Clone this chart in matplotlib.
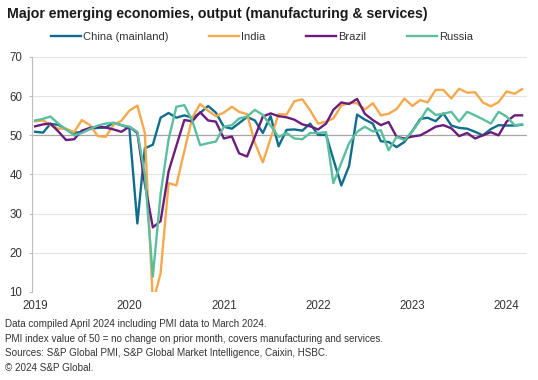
import matplotlib
matplotlib.use("Agg")
import matplotlib.pyplot as plt
import pandas as pd

plt.rcParams['font.family'] = ['Liberation Sans', 'DejaVu Sans']

# composite PMI output, monthly Jan 2019 - Mar 2024
months = pd.date_range("2019-01-01", periods=63, freq="MS")

china = [50.9, 50.7, 52.9, 52.7, 51.5, 50.6, 50.9, 51.6, 51.9, 52.0, 53.2, 52.6,
         51.9, 27.5, 46.7, 47.6, 54.5, 55.7, 54.5, 55.1, 54.5, 55.7, 57.5, 55.8,
         52.2, 51.7, 53.1, 54.7, 53.8, 50.6, 54.9, 47.2, 51.4, 51.5, 51.2, 53.0,
         50.1, 50.1, 43.9, 37.2, 42.2, 55.3, 54.0, 53.0, 48.5, 48.3, 47.0, 48.3,
         51.1, 54.2, 54.5, 53.6, 55.6, 52.5, 51.9, 51.7, 50.9, 50.0, 51.6, 52.6,
         52.5, 52.5, 52.7]

india = [53.6, 53.8, 52.7, 51.7, 51.7, 50.8, 53.9, 52.6, 49.8, 49.6, 52.7, 53.7,
         56.3, 57.6, 50.6, 7.2, 14.8, 37.8, 37.2, 46.0, 54.6, 58.0, 56.3, 54.9,
         55.8, 57.3, 56.0, 55.4, 48.1, 43.1, 49.2, 55.4, 55.3, 58.7, 59.2, 56.4,
         53.0, 53.5, 54.3, 57.6, 58.3, 58.2, 56.6, 58.2, 55.1, 55.5, 56.7, 59.4,
         57.5, 59.0, 58.4, 61.6, 61.6, 59.4, 61.9, 60.9, 61.0, 58.4, 57.4, 58.5,
         61.2, 60.6, 61.8]

brazil = [52.3, 52.8, 53.0, 51.0, 48.8, 49.0, 51.2, 51.9, 52.2, 52.0, 51.5, 50.9,
          52.2, 50.6, 37.6, 26.5, 28.1, 40.8, 47.3, 53.9, 53.6, 55.9, 53.8, 53.5,
          49.2, 49.7, 45.4, 44.6, 49.6, 54.8, 55.6, 54.9, 54.6, 54.0, 52.8, 52.3,
          51.5, 53.0, 56.5, 58.4, 58.0, 59.3, 55.5, 53.9, 52.6, 53.4, 49.6, 49.2,
          49.7, 50.0, 51.0, 52.2, 52.6, 51.8, 49.8, 50.6, 49.2, 50.0, 50.8, 50.0,
          53.5, 55.1, 55.1]

russia = [53.8, 54.2, 54.8, 53.0, 51.5, 50.0, 50.6, 51.6, 52.5, 53.0, 53.2, 52.6,
          52.2, 50.9, 40.0, 13.9, 35.0, 49.0, 57.3, 57.7, 53.7, 47.5, 48.0, 48.4,
          52.2, 52.6, 54.3, 54.8, 56.5, 55.2, 52.5, 49.6, 50.6, 49.2, 49.0, 50.6,
          50.6, 50.8, 37.8, 43.0, 48.0, 50.9, 52.2, 51.0, 51.3, 46.2, 49.6, 48.8,
          51.0, 53.9, 56.9, 55.2, 55.5, 56.0, 53.5, 56.0, 55.1, 54.1, 53.0, 56.0,
          54.8, 52.6, 52.8]

series = [("China (mainland)", china, "#0e6e8c"),
          ("India", india, "#f5a94c"),
          ("Brazil", brazil, "#6b1d7c"),
          ("Russia", russia, "#5bbf9f")]

fig = plt.figure(figsize=(5.38, 3.80), dpi=100)
ax = fig.add_axes([32/538, 1-292/380, 495/538, 235/380])

for name, vals, col in series:
    ax.plot(months, vals, color=col, lw=1.7, label=name)

ax.set_ylim(10, 70)
ax.set_yticks(range(10, 71, 10))
ax.set_xlim(pd.Timestamp("2018-12-20"), pd.Timestamp("2024-03-20"))
years = pd.date_range("2019-01-01", "2024-01-01", freq="YS")
ax.set_xticks(years)
ax.set_xticklabels([str(y.year) for y in years])

for v in range(10, 71, 10):
    if v == 50:
        ax.axhline(v, color="#a6a6a6", lw=0.9, zorder=0)
    else:
        ax.axhline(v, color="#e3e3e3", lw=0.8, zorder=0)

for s in ["top", "right", "bottom"]:
    ax.spines[s].set_visible(False)
ax.spines["left"].set_color("#bdbdbd")
ax.spines["left"].set_linewidth(0.8)
ax.tick_params(axis="y", length=2, color="#bdbdbd", labelsize=8.3, labelcolor="#333333", pad=5)
ax.tick_params(axis="x", length=0, labelsize=8.3, labelcolor="#333333", pad=6)

fig.text(7/538, 1-14/380, "Major emerging economies, output (manufacturing & services)",
         fontsize=10.2, fontweight="bold", color="#1a1a1a", va="center", ha="left")

fig.legend(loc="center", bbox_to_anchor=(262/538, 1-37/380), ncol=4, frameon=False,
           fontsize=8, handlelength=2.7, handletextpad=0.2, columnspacing=3.65,
           labelcolor="#333333")

notes = ["Data compiled April 2024 including PMI data to March 2024.",
         "PMI index value of 50 = no change on prior month, covers manufacturing and services.",
         "Sources: S&P Global PMI, S&P Global Market Intelligence, Caixin, HSBC.",
         "\u00a9 2024 S&P Global."]
for k, line in enumerate(notes):
    fig.text(5/538, 1-(324 + k*14.7)/380, line, fontsize=7.1, color="#333333",
             va="center", ha="left")

fig.savefig("out.png", dpi=100)
